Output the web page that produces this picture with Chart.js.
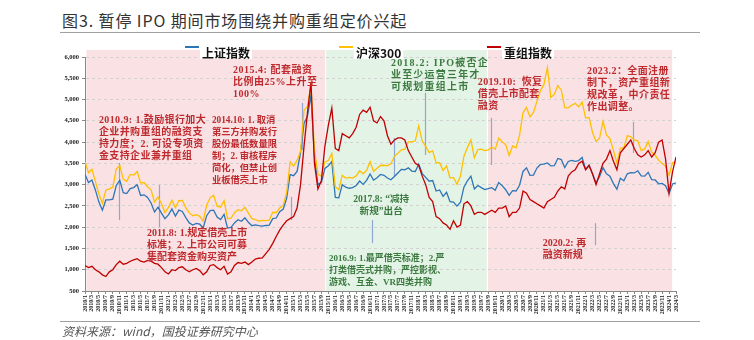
<!DOCTYPE html>
<html><head><meta charset="utf-8">
<script src="https://cdn.jsdelivr.net/npm/chart.js@4/dist/chart.umd.min.js"></script>
<style>
html,body{margin:0;padding:0;background:#fff;}
#wrap{position:relative;width:754px;height:340px;overflow:hidden;}
#title{position:absolute;left:62px;top:9px;font:16px "Noto Sans CJK SC";letter-spacing:0.9px;color:#333;white-space:nowrap;line-height:22px;}
#tline{position:absolute;left:60px;top:32px;width:640px;height:0;border-top:1px solid #a0a0a0;}
#sline{position:absolute;left:60px;top:321px;width:640px;height:0;border-top:1px solid #a0a0a0;}
#source{position:absolute;left:62px;top:322px;font:italic 12px "Noto Sans CJK SC";color:#555;white-space:nowrap;line-height:18px;}
canvas{position:absolute;left:0;top:0;}
</style></head>
<body><div id="wrap">
<div id="title">图3. 暂停 IPO 期间市场围绕并购重组定价兴起</div>
<div id="tline"></div>
<canvas id="c" width="754" height="340"></canvas>
<div id="sline"></div>
<div id="source">资料来源：wind，国投证券研究中心</div>
</div>
<script>
// ---- categories (monthly, 2010/1 .. 2024/3) ----
const startYear = 2010, monthCount = 171;
const months = [];
for (let i = 0; i < monthCount; i++) months.push((startYear + Math.floor(i / 12)) + '/' + (i % 12 + 1));

// ---- series (one value per month) ----
const seriesNames = ['上证指数', '沪深300', '重组指数'];
const sh = [
 3240,3050,3110,2870,2590,2400,2640,2640,2660,2980,3100,2810,
 2790,2905,2930,3000,2745,2760,2700,2570,2360,2470,2330,2200,
 2290,2430,2260,2400,2370,2225,2100,2050,2090,2070,1980,2270,
 2390,2400,2240,2180,2300,1980,1995,2100,2175,2140,2220,2115,
 2035,2055,2035,2025,2040,2050,2200,2215,2365,2420,2680,3235,
 3210,3310,3750,4440,4610,5100,3660,3000,3050,3380,3445,3540,
 2700,2690,3000,2940,2915,2930,2980,3085,3005,3100,3250,3105,
 3160,3240,3220,3155,3115,3190,3275,3360,3350,3395,3320,3310,
 3480,3260,3170,3080,3095,2850,2875,2725,2820,2600,2590,2495,
 2585,2940,3090,3200,2900,2980,2930,2885,2905,2930,2870,3050,
 2975,2880,2750,2860,2850,2985,3310,3395,3220,3225,3390,3475,
 3480,3510,3440,3445,3615,3590,3400,3545,3570,3545,3565,3640,
 3360,3460,3250,3045,3185,3400,3255,3200,3025,2895,3150,3090,
 3255,3280,3275,3325,3205,3200,3290,3120,3110,3020,3030,2975,
 2790,3015,3040];
const hs = [
 3540,3280,3360,3070,2780,2560,2870,2900,2940,3370,3450,3130,
 3080,3240,3225,3310,3040,3045,2950,2880,2590,2710,2550,2345,
 2465,2635,2455,2625,2630,2460,2335,2270,2295,2255,2140,2520,
 2690,2750,2495,2470,2625,2200,2210,2340,2410,2385,2465,2330,
 2200,2180,2145,2160,2155,2165,2350,2340,2450,2510,2810,3535,
 3435,3570,3785,4750,4840,5350,3815,3250,3200,3535,3565,3730,
 2950,2880,3220,3155,3170,3155,3205,3325,3255,3335,3540,3310,
 3385,3450,3455,3440,3490,3665,3735,3820,3835,4005,4005,4030,
 4380,4025,3900,3755,3800,3510,3515,3335,3440,3155,3170,3010,
 3200,3670,3870,4050,3630,3825,3835,3800,3815,3885,3830,4095,
 4005,3940,3685,3910,3865,4165,4695,4815,4590,4695,4960,5210,
 5350,5750,5050,5125,5330,5225,4810,4805,4865,4910,4830,4940,
 4565,4580,4220,4015,4090,4485,4170,4080,3805,3510,3855,3870,
 4155,4125,4050,4030,3800,3840,4015,3765,3690,3575,3495,3430,
 3215,3515,3540];
const cz = [
 1100,1050,1080,1000,950,880,840,950,1000,1120,1200,1130,
 1150,1200,1230,1260,1200,1180,1220,1200,1150,1130,1050,950,
 900,1000,980,1050,1070,1000,950,1000,1030,980,880,950,
 1100,1120,1050,1000,1080,900,950,1100,1170,1150,1180,1120,
 1180,1250,1270,1280,1380,1480,1620,1780,1930,2050,2150,2200,
 2250,2450,3000,3900,4700,5400,3500,2900,3100,3900,4400,4800,
 3850,3800,4200,4150,4100,4200,4350,4650,4750,4700,4820,4500,
 4450,4600,4500,4150,3950,4050,4100,4100,4050,3800,3650,3500,
 3450,3200,3000,2700,2600,2250,2200,2100,2050,1950,2150,2000,
 2050,2550,2600,2500,2300,2350,2350,2300,2350,2400,2350,2450,
 2450,2500,2250,2350,2350,2450,2850,2800,2650,2600,2550,2500,
 2450,2600,2650,2700,2850,2950,2900,3200,3300,3350,3500,3550,
 3350,3450,3250,3000,3250,3500,3600,3800,3550,3350,3750,3850,
 3950,4050,3850,3700,3650,3700,3800,3650,3750,4000,4050,3600,
 2800,3300,3650];

// ---- policy periods (month index ranges) ----
const periods = [[0.4, 69.1, 'pink'], [69.4, 115.6, 'green'], [115.9, 168.9, 'pink']];

// ---- annotations: [month index, value] anchor ----
const notes = [
 {at:[4.0,4500], c:'red', lines:['2010.9: 1.鼓励银行加大','企业并购重组的融资支','持力度；2. 可设专项资','金支持企业兼并重组']},
 {at:[36.5,4500], c:'red', lines:['2014.10: 1. 取消','第三方并购发行','股份最低数量限','制；2. 审核程序','简化，但禁止创','业板借壳上市']},
 {at:[42.6,5680], c:'red', lines:['2015.4: 配套融资','比例由25%上升至','100%']},
 {at:[17.8,1860], c:'red', lines:['2011.8: 1.规定借壳上市','标准；2. 上市公司可募','集配套资金购买资产']},
 {at:[70.2,1270], c:'green', lines:['2016.9: 1.最严借壳标准；2.严','打类借壳式并购，严控影视、','游戏、互金、VR四类并购']},
 {at:[85.2,2660], c:'green', center:true, lines:['2017.8: “减持','新规”出台']},
 {at:[88.0,5840], c:'green', lines:['2018.2: IPO被否企','业至少运营三年才','可规划重组上市']},
 {at:[113.0,5395], c:'red', lines:['2019.10:  恢复','借壳上市配套','融资']},
 {at:[144.4,5655], c:'red', lines:['2023.2：全面注册','制下，资产重组新','规改革，中介责任','作出调整。']},
 {at:[131.7,1625], c:'red', lines:['2020.2: 再','融资新规']}
];
const noteStyle = [
 {size:10, sp:0.4},{size:9.3, sp:0},{size:10, sp:0.5},{size:10, sp:0},{size:9, sp:0},
 {size:9.6, sp:0},{size:10, sp:1.2},{size:10, sp:0.3},{size:10, sp:0.4},{size:10, sp:0}
];
// ---- marker lines: [month index, from value, to value] ----
const markers = [[9.8,3510,2166],[21.3,2990,2000],[59.3,2715,2166],[62.4,4923,3816],[88.9,4098,3200],
 [82.6,2166,1624],[97.8,5159,3698],[116.8,4569,3462],[146.7,2095,1577],[157.6,4475,3745]];

const COLORS = {pink:'#FAE2E4', green:'#E3F3E6', red:'#BE2A2E', greenText:'#3C7A40', marker:'#8FA6D6'};
const lineColors = ['#2E75B6', '#FFC000', '#C00000'];

const bgPlugin = {
  id:'bg',
  beforeDraw(chart){
    const {ctx, chartArea:a, scales:{x, y}} = chart;
    const top = a.top - 7;
    ctx.save();
    periods.forEach(p => {
      const x0 = x.getPixelForValue(p[0]), x1 = x.getPixelForValue(p[1]);
      ctx.fillStyle = COLORS[p[2]];
      ctx.fillRect(x0, top, x1 - x0, a.bottom - top);
    });
    ctx.restore();
  },
  beforeDatasetsDraw(chart){
    const {ctx, scales:{x, y}} = chart;
    ctx.save();
    ctx.strokeStyle = COLORS.marker; ctx.lineWidth = 1.2;
    markers.forEach(m => {
      const px = Math.round(x.getPixelForValue(m[0])) + 0.5;
      ctx.beginPath(); ctx.moveTo(px, y.getPixelForValue(m[1])); ctx.lineTo(px, y.getPixelForValue(m[2])); ctx.stroke();
    });
    ctx.restore();
  },
  afterDatasetsDraw(chart){
    const {ctx, scales:{x, y}} = chart;
    ctx.save();
    notes.forEach((n, k) => {
      const st = noteStyle[k];
      ctx.font = 'bold ' + st.size + 'px "Liberation Serif", "Noto Sans CJK SC"';
      ctx.letterSpacing = st.sp + 'px';
      ctx.fillStyle = n.c === 'red' ? COLORS.red : COLORS.greenText;
      ctx.textBaseline = 'middle';
      ctx.textAlign = n.center ? 'center' : 'left';
      const px = x.getPixelForValue(n.at[0]), py = y.getPixelForValue(n.at[1]);
      n.lines.forEach((t, i) => ctx.fillText(t, px, py + i * 12));
    });
    ctx.restore();
  },
  afterDraw(chart){
    const {ctx, chartArea:a} = chart;
    const starts = [185, 339, 487];
    ctx.save();
    ctx.font = 'bold 12px "Noto Sans CJK SC"';
    ctx.textBaseline = 'middle';
    chart.data.datasets.forEach((ds, i) => {
      const lx = starts[i];
      const tw = ctx.measureText(ds.label).width;
      ctx.fillStyle = '#fff';
      ctx.fillRect(lx + 15, a.top - 11, tw + 4, 13);
      ctx.strokeStyle = ds.borderColor; ctx.lineWidth = 2;
      ctx.beginPath(); ctx.moveTo(lx, a.top - 10); ctx.lineTo(lx + 14, a.top - 10); ctx.stroke();
      ctx.fillStyle = '#111';
      ctx.fillText(ds.label, lx + 17, a.top - 4);
    });
    ctx.restore();
  }
};

const seriesValues = [sh, hs, cz];
new Chart(document.getElementById('c'), {
  type:'line',
  data:{
    datasets: seriesNames.map((name, i) => ({
      label:name,
      data: seriesValues[i].map((v, j) => ({x:j, y:v})),
      borderColor: lineColors[i],
      borderWidth: 1.3,
      pointRadius: 0,
      tension: 0,
      order: 3 - i
    }))
  },
  options:{
    responsive:false, animation:false, devicePixelRatio:1,
    layout:{padding:{left:40, top:57, right:78, bottom:24}},
    plugins:{legend:{display:false}, tooltip:{enabled:false}},
    scales:{
      x:{type:'linear', min:0, max:monthCount - 1,
        afterFit(s){ s.height = 25; },
        ticks:{stepSize:2, autoSkip:false, maxRotation:90, minRotation:90, padding:1,
          font:{family:'"Liberation Serif"', size:6, weight:'bold'}, color:'#222',
          callback:(v) => months[v] || ''},
        grid:{drawOnChartArea:false, tickLength:3, color:'#888'},
        border:{color:'#888'}
      },
      y:{min:500, max:6000,
        afterFit(s){ s.width = 45; },
        ticks:{stepSize:500, padding:3, font:{family:'"Liberation Serif"', size:6.5, weight:'bold'}, color:'#222',
          callback:(v) => v.toLocaleString('en-US')},
        grid:{color:'#d2d2d2', tickColor:'#888', tickLength:3},
        border:{color:'#888', dash:[3,3]}
      }
    }
  },
  plugins:[bgPlugin]
});
</script>
</body></html>
